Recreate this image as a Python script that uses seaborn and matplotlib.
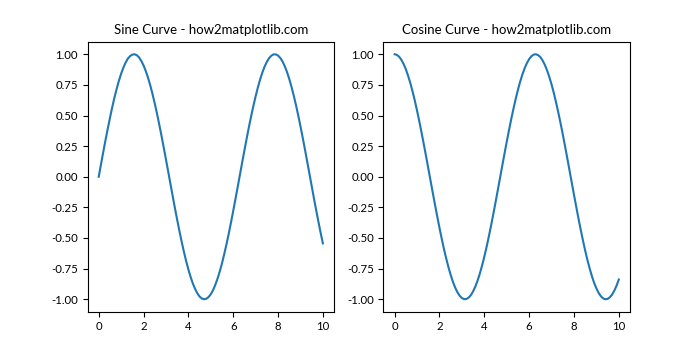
import matplotlib
matplotlib.use("Agg")
import matplotlib.pyplot as plt
import seaborn as sns
import pandas as pd

plt.rcParams['font.family'] = ['Lato', 'DejaVu Sans']

x_vals = [0.0, 0.1, 0.2, 0.3, 0.4, 0.5, 0.6, 0.7, 0.8, 0.9,
          1.0, 1.1, 1.2, 1.3, 1.4, 1.5, 1.6, 1.7, 1.8, 1.9,
          2.0, 2.1, 2.2, 2.3, 2.4, 2.5, 2.6, 2.7, 2.8, 2.9,
          3.0, 3.1, 3.2, 3.3, 3.4, 3.5, 3.6, 3.7, 3.8, 3.9,
          4.0, 4.1, 4.2, 4.3, 4.4, 4.5, 4.6, 4.7, 4.8, 4.9,
          5.0, 5.1, 5.2, 5.3, 5.4, 5.5, 5.6, 5.7, 5.8, 5.9,
          6.0, 6.1, 6.2, 6.3, 6.4, 6.5, 6.6, 6.7, 6.8, 6.9,
          7.0, 7.1, 7.2, 7.3, 7.4, 7.5, 7.6, 7.7, 7.8, 7.9,
          8.0, 8.1, 8.2, 8.3, 8.4, 8.5, 8.6, 8.7, 8.8, 8.9,
          9.0, 9.1, 9.2, 9.3, 9.4, 9.5, 9.6, 9.7, 9.8, 9.9,
          10.0]
sine_vals = [0.000, 0.100, 0.199, 0.296, 0.389, 0.479, 0.565, 0.644, 0.717, 0.783,
             0.841, 0.891, 0.932, 0.964, 0.985, 0.997, 1.000, 0.992, 0.974, 0.946,
             0.909, 0.863, 0.808, 0.746, 0.675, 0.598, 0.516, 0.427, 0.335, 0.239,
             0.141, 0.042, -0.058, -0.158, -0.256, -0.351, -0.443, -0.530, -0.612, -0.688,
             -0.757, -0.818, -0.872, -0.916, -0.952, -0.978, -0.994, -1.000, -0.996, -0.982,
             -0.959, -0.926, -0.883, -0.832, -0.773, -0.706, -0.631, -0.551, -0.465, -0.374,
             -0.279, -0.182, -0.083, 0.017, 0.117, 0.215, 0.312, 0.405, 0.494, 0.578,
             0.657, 0.729, 0.794, 0.851, 0.899, 0.938, 0.968, 0.988, 0.999, 0.999,
             0.989, 0.970, 0.941, 0.902, 0.855, 0.798, 0.734, 0.663, 0.585, 0.501,
             0.412, 0.319, 0.223, 0.124, 0.025, -0.075, -0.175, -0.272, -0.366, -0.458,
             -0.544]
cosine_vals = [1.000, 0.995, 0.980, 0.955, 0.921, 0.878, 0.825, 0.765, 0.697, 0.622,
               0.540, 0.454, 0.362, 0.267, 0.170, 0.071, -0.029, -0.129, -0.227, -0.323,
               -0.416, -0.505, -0.589, -0.666, -0.737, -0.801, -0.857, -0.904, -0.942, -0.971,
               -0.990, -0.999, -0.998, -0.987, -0.967, -0.936, -0.897, -0.848, -0.791, -0.726,
               -0.654, -0.575, -0.490, -0.401, -0.307, -0.211, -0.112, -0.012, 0.088, 0.187,
               0.284, 0.378, 0.469, 0.554, 0.635, 0.709, 0.776, 0.835, 0.886, 0.927,
               0.960, 0.983, 0.997, 1.000, 0.993, 0.977, 0.950, 0.914, 0.869, 0.815,
               0.754, 0.685, 0.608, 0.526, 0.439, 0.347, 0.252, 0.154, 0.054, -0.046,
               -0.146, -0.243, -0.339, -0.431, -0.519, -0.602, -0.679, -0.748, -0.811, -0.866,
               -0.911, -0.948, -0.975, -0.993, -1.000, -0.997, -0.984, -0.962, -0.930, -0.889,
               -0.839]
titles = ["Sine Curve - how2matplotlib.com", "Cosine Curve - how2matplotlib.com"]
x_ticks = [0, 2, 4, 6, 8, 10]
y_ticks = [-1.0, -0.75, -0.5, -0.25, 0.0, 0.25, 0.5, 0.75, 1.0]

df = pd.DataFrame({"x": x_vals, "sine": sine_vals, "cosine": cosine_vals})

fig, axes = plt.subplots(1, 2, figsize=(7, 3.5), dpi=100)
for ax, col, title in zip(axes, ["sine", "cosine"], titles):
    sns.lineplot(data=df, x="x", y=col, ax=ax, color="#1f77b4", linewidth=1.5)
    ax.set_title(title, fontsize=9.5)
    ax.set_xlabel("")
    ax.set_ylabel("")
    ax.set_xticks(x_ticks)
    ax.set_yticks(y_ticks)
    ax.set_yticklabels([f"{v:.2f}" for v in y_ticks])
    ax.tick_params(labelsize=8.2)

fig.savefig("out.png", dpi=100)
